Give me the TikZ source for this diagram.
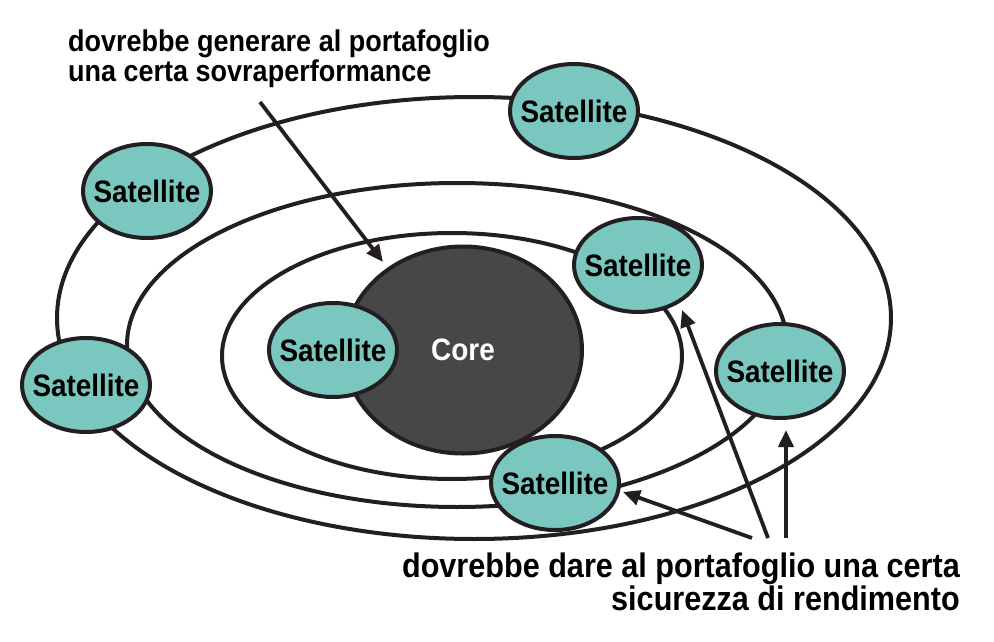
\documentclass[tikz,border=0pt]{standalone}
\usepackage{fontspec}
\setmainfont{Liberation Sans}[FakeStretch=0.9]
\usepackage{tikz}
\usetikzlibrary{shapes.geometric,arrows.meta}
\definecolor{satfill}{HTML}{79C7BF}
\definecolor{corefill}{HTML}{474747}
\definecolor{ink}{HTML}{231F20}

\begin{document}
\begin{tikzpicture}[x=1pt,y=-1pt,font=\bfseries,
  orbit/.style={draw=ink,line width=4pt},
  sat/.style={ellipse,draw=ink,line width=4pt,fill=satfill,minimum width=128pt,minimum height=94pt,inner xsep=-9pt,inner ysep=0pt,font=\fontsize{31}{31}\selectfont\bfseries},
  arr/.style={draw=ink,line width=3.8pt,-{Triangle[length=17pt,width=15pt]}},
  note/.style={inner sep=0pt,font=\fontsize{#1}{30}\selectfont\bfseries}]
\useasboundingbox (0,0) rectangle (994,642);
% orbits
\draw[orbit] (474,318) ellipse [x radius=417pt,y radius=221pt];
\draw[orbit] (457,345) ellipse [x radius=330pt,y radius=162pt];
\draw[orbit] (452,356) ellipse [x radius=230pt,y radius=123pt];
\node[ellipse,draw=ink,line width=4pt,fill=corefill,minimum width=238pt,minimum height=207pt,text=white,font=\fontsize{31}{31}\selectfont\bfseries] (core) at (463,350) {Core};
\foreach \n/\x/\y in %
{1/574/111,2/147/191,3/638/265,4/333/350,5/780/371,6/86/385,7/555/483} {
   \node[sat] (sat\n) at (\x,\y) {Satellite};
}
\node[note=30,anchor=north west,align=left] (topnote) at (68,30) {dovrebbe generare al portafoglio\\una certa sovraperformance};
\node[note=34,anchor=north east,align=right] (botnote) at (960,553) {dovrebbe dare al portafoglio una certa\\sicurezza di rendimento};
\coordinate (a0) at (260,102); \coordinate (b0) at (383,262);
\coordinate (a1) at (752,538); \coordinate (b1) at (623,492);
\coordinate (a2) at (768,538); \coordinate (b2) at (682,310);
\coordinate (a3) at (786,538); \coordinate (b3) at (786,430);
\foreach \i in {0,...,3} {
   \draw[arr] (a\i) -- (b\i);
}
\end{tikzpicture}
\end{document}
